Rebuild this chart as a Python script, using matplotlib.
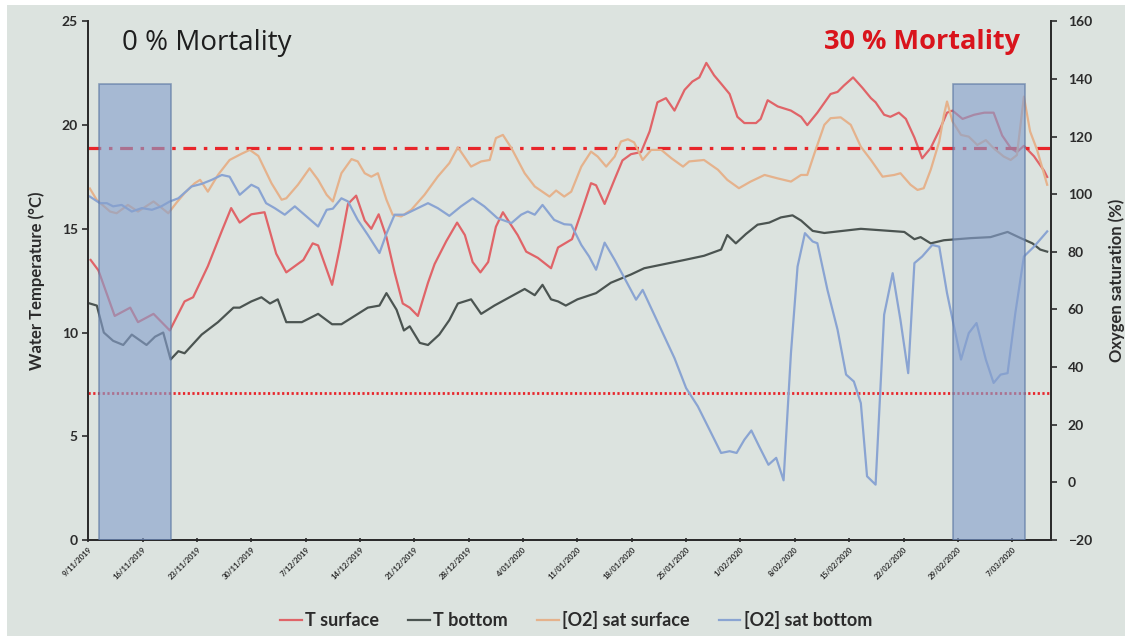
import numpy as np
import matplotlib
matplotlib.use('Agg')
from matplotlib import pyplot as plt
from matplotlib.patches import Rectangle

# days since 9/11/2019, value
t_surface = [(0.3, 13.5), (1.3, 13.0), (3.4, 10.8), (5.4, 11.2), (6.4, 10.5), (8.4, 10.9), (10.5, 10.1),
             (12.4, 11.5), (13.5, 11.7), (15.4, 13.2), (17.2, 14.9), (18.4, 16.0), (19.5, 15.3), (21.0, 15.7),
             (22.7, 15.8), (24.2, 13.8), (25.5, 12.9), (27.7, 13.5), (28.9, 14.3), (29.6, 14.2), (31.4, 12.3),
             (32.4, 14.1), (33.45, 16.2), (34.5, 16.6), (35.6, 15.4), (36.45, 15.0), (37.4, 15.7), (38.4, 14.6),
             (39.45, 12.9), (40.5, 11.4), (41.4, 11.2), (42.45, 10.8), (43.75, 12.4), (44.6, 13.3), (46.1, 14.4),
             (47.5, 15.3), (48.5, 14.7), (49.5, 13.4), (50.5, 12.9), (51.5, 13.4), (52.5, 15.1), (53.4, 15.8),
             (54.25, 15.3), (55.3, 14.7), (56.4, 13.9), (57.9, 13.6), (59.6, 13.1), (60.5, 14.1), (62.3, 14.5),
             (63.5, 15.8), (64.75, 17.2), (65.4, 17.1), (66.5, 16.2), (67.8, 17.4), (68.8, 18.3), (69.9, 18.6),
             (71.2, 18.7), (72.3, 19.7), (73.3, 21.1), (74.4, 21.3), (75.5, 20.7), (76.8, 21.7), (77.8, 22.1),
             (78.7, 22.3), (79.6, 23.0), (80.6, 22.4), (81.5, 22.0), (82.6, 21.5), (83.6, 20.4), (84.5, 20.1),
             (86.0, 20.1), (86.6, 20.3), (87.5, 21.2), (88.8, 20.9), (90.5, 20.7), (91.8, 20.4), (92.6, 20.0),
             (93.9, 20.6), (95.6, 21.5), (96.5, 21.6), (97.3, 21.9), (98.5, 22.3), (99.7, 21.8), (100.8, 21.3),
             (101.4, 21.1), (102.5, 20.5), (103.3, 20.4), (104.4, 20.6), (105.3, 20.3), (106.4, 19.4),
             (107.4, 18.4), (108.5, 18.9), (109.8, 19.9), (110.6, 20.6), (111.3, 20.7), (112.6, 20.3),
             (114.1, 20.5), (115.4, 20.6), (116.6, 20.6), (117.7, 19.5), (118.8, 18.9), (119.6, 18.7),
             (120.5, 19.0), (121.8, 18.5), (123.1, 17.8), (123.5, 17.5)]

t_bottom = [(0.2, 11.4), (1.1, 11.3), (2.0, 10.0), (3.2, 9.6), (4.5, 9.4), (5.6, 9.9), (7.5, 9.4), (8.6, 9.8),
            (9.65, 10.0), (10.6, 8.7), (11.6, 9.1), (12.4, 9.0), (14.6, 9.9), (16.7, 10.5), (18.7, 11.2),
            (19.5, 11.2), (21.0, 11.5), (22.3, 11.7), (23.4, 11.4), (24.4, 11.6), (25.5, 10.5), (27.5, 10.5),
            (29.6, 10.9), (31.4, 10.4), (32.6, 10.4), (34.3, 10.8), (36.0, 11.2), (37.5, 11.3), (38.4, 11.9),
            (39.7, 11.1), (40.65, 10.1), (41.4, 10.3), (42.7, 9.5), (43.75, 9.4), (45.2, 9.9), (46.5, 10.6),
            (47.6, 11.4), (49.3, 11.6), (50.6, 10.9), (52.3, 11.3), (54.25, 11.7), (56.2, 12.1), (57.5, 11.8),
            (58.5, 12.3), (59.6, 11.6), (60.5, 11.5), (61.5, 11.3), (63.0, 11.6), (65.4, 11.9), (67.3, 12.4),
            (69.9, 12.8), (71.6, 13.1), (74.2, 13.3), (76.8, 13.5), (79.3, 13.7), (81.5, 14.0), (82.3, 14.7),
            (83.4, 14.3), (84.7, 14.75), (86.2, 15.2), (87.7, 15.3), (89.2, 15.55), (90.7, 15.65), (91.8, 15.4),
            (93.3, 14.9), (94.8, 14.8), (99.5, 15.0), (105.1, 14.85), (106.4, 14.5), (107.2, 14.6),
            (108.5, 14.3), (110.2, 14.45), (113.6, 14.55), (116.2, 14.6), (118.4, 14.85), (120.1, 14.55),
            (121.6, 14.3), (122.6, 14.0), (123.5, 13.9)]

o2_surface = [(0.2, 102), (1.1, 98), (2.8, 94), (3.65, 93.4), (5.1, 96.3), (6.4, 94), (8.4, 97.5), (9.2, 95.8),
              (10.3, 93.4), (11.4, 97.2), (12.4, 100.4), (13.7, 103.8), (14.4, 105), (15.4, 100.9),
              (16.7, 106.7), (18.2, 111.9), (19.7, 114), (20.8, 115.4), (21.9, 113.3), (23.6, 103.8),
              (24.9, 98.1), (25.5, 98.6), (27.0, 103.3), (28.5, 109), (29.6, 105), (30.7, 99.8), (31.5, 97.5),
              (32.6, 107.3), (33.9, 112.2), (34.7, 111.4), (35.6, 107.3), (36.45, 106.1), (37.3, 107.3),
              (38.4, 98.1), (39.2, 92.9), (40.3, 92.3), (41.6, 94.6), (43.3, 99.8), (45.0, 106.1), (46.5, 110.8),
              (47.6, 116.3), (49.3, 109.6), (50.6, 111.4), (51.7, 111.9), (52.5, 119.5), (53.4, 120.6),
              (54.5, 116), (56.2, 107.3), (57.5, 102.7), (59.4, 99.2), (60.25, 101.3), (61.3, 99.2),
              (62.2, 100.9), (63.5, 109.6), (64.75, 114.8), (65.6, 113.1), (66.7, 109.6), (67.8, 113.1),
              (68.6, 118.3), (69.5, 119.1), (70.3, 118), (71.4, 111.9), (72.5, 115.4), (73.8, 115.4),
              (75.1, 112.5), (76.6, 109.6), (77.4, 111.4), (79.3, 111.9), (81.1, 108.5), (82.3, 105),
              (83.8, 102.1), (85.3, 104.4), (87.1, 106.7), (88.8, 105.5), (90.5, 104.4), (91.8, 106.7),
              (92.6, 106.7), (93.5, 114), (94.8, 124.1), (95.6, 126.4), (96.9, 126.7), (98.2, 124.1),
              (99.5, 116.5), (100.8, 111.9), (102.3, 106.1), (103.8, 106.7), (104.6, 107.3), (105.9, 103.3),
              (106.8, 101.5), (107.6, 102.1), (108.5, 108.5), (109.6, 118.3), (110.2, 127.5), (110.6, 132.2),
              (111.3, 125.3), (112.4, 120.6), (113.4, 120), (114.5, 117.1), (115.6, 118.8), (116.6, 116),
              (117.9, 113.1), (118.8, 111.9), (119.6, 113.6), (120.5, 133.9), (121.3, 121.8), (122.2, 115.4),
              (123.5, 103.3)]

o2_bottom = [(0.2, 99.2), (1.5, 96.9), (2.4, 96.9), (3.2, 95.8), (4.3, 96.3), (5.6, 94), (6.9, 95.2), (8.2, 94.6),
             (9.4, 95.8), (10.5, 97.5), (11.6, 98.6), (13.3, 102.7), (14.6, 103.6), (15.9, 105), (17.2, 106.7),
             (18.2, 106.1), (19.5, 99.8), (21.0, 103.3), (21.9, 102.1), (22.9, 96.9), (24.0, 95.2), (25.3, 92.9),
             (26.6, 95.8), (28.1, 92.3), (29.6, 88.8), (30.7, 94.6), (31.5, 95), (32.6, 98.6), (33.45, 97.5),
             (34.7, 91.1), (36.0, 85.9), (37.5, 79.6), (38.4, 86.3), (39.45, 92.9), (40.7, 92.9), (42.45, 95.2),
             (43.75, 96.9), (45.0, 95.2), (46.5, 92.5), (48.0, 95.8), (49.5, 98.6), (51.0, 95.8), (52.7, 91.7),
             (54.5, 90), (55.75, 92.9), (56.6, 94), (57.5, 92.9), (58.5, 96.3), (60.0, 91.1), (61.3, 89.6),
             (62.2, 89.4), (63.5, 82.4), (64.5, 78.4), (65.4, 73.8), (66.5, 83.2), (67.8, 77.2), (69.3, 69.7),
             (70.55, 63.4), (71.4, 66.8), (72.7, 59.3), (74.2, 50.6), (75.5, 43.1), (77.0, 32.7), (78.5, 26.4),
             (79.8, 19.4), (81.5, 10.2), (82.6, 10.8), (83.5, 10.2), (84.5, 14.8), (85.4, 18), (86.4, 12.5),
             (87.6, 6.1), (88.6, 8.5), (89.55, 0.7), (90.5, 44.9), (91.35, 74.9), (92.3, 86.5), (93.3, 83.6),
             (93.9, 83), (95.2, 66.8), (96.5, 53), (97.6, 37.4), (98.6, 35), (99.5, 27.5), (100.3, 2.1),
             (101.4, -0.8), (102.5, 58.2), (103.6, 72.6), (104.6, 56.4), (105.6, 37.9), (106.4, 76.1),
             (107.4, 78.4), (108.7, 82.4), (109.6, 81.8), (110.6, 65.7), (111.5, 54.1), (112.4, 42.6),
             (113.4, 51.8), (114.4, 55.3), (115.6, 42.6), (116.6, 34.5), (117.5, 37.4), (118.4, 37.9),
             (119.4, 58.8), (120.5, 78.4), (121.8, 81.8), (123.5, 87.1)]

# sampling periods (start day, end day), height in degC
sample_periods = [(1.4, 10.6), (111.4, 120.6)]
sample_height = 22

t_upper = 18.9   # dash-dot threshold
t_lower = 7.1    # dotted threshold

tick_days = list(range(0, 120, 7))
tick_labels = ['9/11/2019', '16/11/2019', '23/11/2019', '30/11/2019', '7/12/2019', '14/12/2019',
               '21/12/2019', '28/12/2019', '4/01/2020', '11/01/2020', '18/01/2020', '25/01/2020',
               '1/02/2020', '8/02/2020', '15/02/2020', '22/02/2020', '29/02/2020', '7/03/2020']

bg = '#dce3df'
ink = '#2b2b2b'
plt.rcParams['font.family'] = ['Lato', 'DejaVu Sans']

fig = plt.figure(figsize=(11.32, 6.39), dpi=100, facecolor='white')
fig.patches.append(Rectangle((7 / 1132, 0.005), 1118 / 1132, 0.987, transform=fig.transFigure,
                             facecolor=bg, edgecolor='none', zorder=-10))
ax = fig.add_axes([0.078, 0.155, 0.8505, 0.8115])
ax.set_facecolor(bg)
ax2 = ax.twinx()

def xy(series):
    arr = np.array(series, dtype=float)
    return arr[:, 0], arr[:, 1]

x, y = xy(t_surface)
l1, = ax.plot(x, y, color='#e06468', lw=1.6, label='T surface')
x, y = xy(t_bottom)
l2, = ax.plot(x, y, color='#4b5451', lw=1.6, label='T bottom')
x, y = xy(o2_surface)
l3, = ax2.plot(x, y, color='#e5b28c', lw=1.6, label='[O2] sat surface')
x, y = xy(o2_bottom)
l4, = ax2.plot(x, y, color='#8aa4d2', lw=1.6, label='[O2] sat bottom')

ax.axhline(t_upper, color='#e8262b', lw=2.3, dashes=(4, 2.4, 1.1, 2.4), zorder=5)
ax.axhline(t_lower, color='#e8262b', lw=2.0, dashes=(0.8, 0.9), zorder=5)

# shaded sampling periods drawn on top of the lines
for start, end in sample_periods:
    ax2.add_patch(Rectangle((start, -20), end - start, sample_height * 180 / 25,
                            facecolor='#86a0cd', edgecolor='#56729f', lw=1.2, alpha=0.62, zorder=10))

ax.set_xlim(0, 124)
ax.set_ylim(0, 25)
ax2.set_ylim(-20, 160)
ax.set_yticks(range(0, 26, 5))
ax2.set_yticks(range(-20, 161, 20))
ax.set_xticks(tick_days)
ax.set_xticklabels(tick_labels, rotation=45, ha='right', rotation_mode='anchor',
                   fontsize=5.5, fontweight='bold', color=ink)

for a in (ax, ax2):
    a.spines['top'].set_visible(False)
    for s in ('left', 'right', 'bottom'):
        a.spines[s].set_color(ink)
        a.spines[s].set_linewidth(1.3)
    a.tick_params(axis='y', labelsize=10, colors=ink, length=4, width=1.2)
    for lab in a.get_yticklabels():
        lab.set_fontweight('bold')
ax2.tick_params(axis='y', pad=8)
ax.tick_params(axis='x', length=3, width=1.2, colors=ink, pad=3, direction='inout')

ax.set_ylabel('Water Temperature (°C)', fontsize=12, fontweight='bold', color=ink, labelpad=12)
ax2.set_ylabel('Oxygen saturation (%)', fontsize=12, fontweight='bold', color=ink, labelpad=12)

ax.text(0.035, 0.985, '0 % Mortality', transform=ax.transAxes, fontsize=20, color='#1e1e1e',
        family=['Open Sans', 'DejaVu Sans'], va='top', ha='left')
ax.text(0.968, 0.985, '30 % Mortality', transform=ax.transAxes, fontsize=19.5, color='#d9141c',
        fontweight='bold', family=['Open Sans', 'DejaVu Sans'], va='top', ha='right')

fig.legend(handles=[l1, l2, l3, l4], loc='center', bbox_to_anchor=(0.509, 0.029), ncol=4,
           frameon=False, handlelength=1.2, handletextpad=0.2, columnspacing=1.6,
           prop={'weight': 'bold', 'size': 13})
for txt in fig.legends[0].get_texts():
    txt.set_color(ink)

fig.savefig('out.png', dpi=100, facecolor=fig.get_facecolor())
